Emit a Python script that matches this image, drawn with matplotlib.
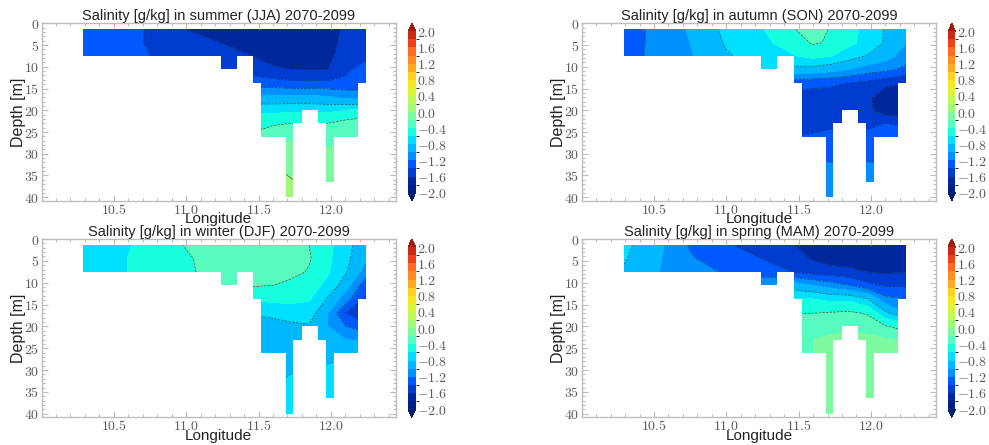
import numpy as np
import matplotlib
matplotlib.use("Agg")
import matplotlib.pyplot as plt
from matplotlib.colors import ListedColormap, BoundaryNorm
from matplotlib.path import Path
from matplotlib.ticker import MultipleLocator

plt.rcParams['mathtext.fontset'] = 'cm'
plt.rcParams['font.family'] = ['Liberation Sans', 'DejaVu Sans']

nan = np.nan

# grid nodes
lon = [10.29, 10.5, 10.75, 11.0, 11.24, 11.46, 11.6, 11.72, 11.85, 11.98, 12.1, 12.245]
depth = [1.4, 4.5, 7.6, 10.6, 13.7, 17, 20, 23, 26.2, 31, 36.4, 40]

# water columns (stepped bottom)
col_edges = [10.29, 11.24, 11.35, 11.465, 11.52, 11.69, 11.74, 11.80, 11.91, 11.965, 12.02, 12.185, 12.245]
col_bottom = [7.6, 10.6, 7.6, 13.7, 26.2, 40, 23, 20, 23, 36.4, 26.2, 13.7]

jja = [
    [-1.25, -1.3, -1.42, -1.6, -1.68, -1.72, -1.74, -1.74, -1.74, -1.72, -1.55, -1.48],
    [-1.25, -1.3, -1.42, -1.52, -1.6, -1.68, -1.72, -1.74, -1.74, -1.7, -1.52, -1.45],
    [-1.25, -1.3, -1.4, -1.48, -1.5, -1.6, -1.68, -1.72, -1.72, -1.65, -1.5, -1.45],
    [nan, nan, nan, nan, -1.5, -1.5, -1.57, -1.6, -1.6, -1.6, -1.45, -1.3],
    [nan, nan, nan, nan, nan, -1.3, -1.32, -1.35, -1.36, -1.36, -1.35, -1.3],
    [nan, nan, nan, nan, nan, -0.98, -0.96, -0.95, -0.95, -0.98, -1.05, -1.1],
    [nan, nan, nan, nan, nan, -0.65, -0.65, -0.65, -0.65, -0.65, -0.6, -0.55],
    [nan, nan, nan, nan, nan, -0.44, -0.42, -0.4, -0.4, -0.4, -0.33, -0.28],
    [nan, nan, nan, nan, nan, -0.38, -0.3, -0.22, -0.25, -0.25, -0.22, -0.19],
    [nan, nan, nan, nan, nan, nan, -0.04, -0.1, -0.15, -0.15, -0.15, nan],
    [nan, nan, nan, nan, nan, nan, 0.1, 0.02, -0.05, -0.1, -0.1, nan],
    [nan, nan, nan, nan, nan, nan, 0.12, 0.06, 0.02, nan, nan, nan],
]
son = [
    [-1.32, -1.15, -0.98, -0.75, -0.62, -0.41, -0.33, -0.41, -0.55, -0.65, -0.82, -0.95],
    [-1.32, -1.15, -1.0, -0.78, -0.66, -0.5, -0.38, -0.42, -0.55, -0.68, -0.82, -1.0],
    [-1.3, -1.15, -1.02, -0.82, -0.72, -0.62, -0.55, -0.6, -0.72, -0.82, -0.92, -1.1],
    [nan, nan, nan, nan, -0.72, -0.86, -0.88, -0.92, -1.0, -1.1, -1.15, -1.25],
    [nan, nan, nan, nan, nan, -1.3, -1.33, -1.36, -1.4, -1.45, -1.52, -1.6],
    [nan, nan, nan, nan, nan, -1.48, -1.5, -1.5, -1.52, -1.55, -1.75, -1.75],
    [nan, nan, nan, nan, nan, -1.5, -1.5, -1.5, -1.5, -1.55, -1.72, -1.78],
    [nan, nan, nan, nan, nan, -1.45, -1.45, -1.44, -1.44, -1.44, -1.4, -1.42],
    [nan, nan, nan, nan, nan, -1.4, -1.38, -1.35, -1.35, -1.35, -1.35, -1.35],
    [nan, nan, nan, nan, nan, nan, -1.22, -1.22, -1.22, -1.22, -1.22, nan],
    [nan, nan, nan, nan, nan, nan, -1.1, -1.1, -1.1, -1.1, -1.1, nan],
    [nan, nan, nan, nan, nan, nan, -1.05, -1.05, -1.05, nan, nan, nan],
]
djf = [
    [-0.7, -0.68, -0.52, -0.39, -0.32, -0.3, -0.3, -0.3, -0.4, -0.55, -0.72, -0.95],
    [-0.7, -0.66, -0.5, -0.42, -0.32, -0.28, -0.28, -0.3, -0.38, -0.56, -0.74, -0.98],
    [-0.7, -0.66, -0.5, -0.44, -0.3, -0.25, -0.3, -0.34, -0.42, -0.58, -0.78, -1.1],
    [nan, nan, nan, nan, -0.3, -0.38, -0.4, -0.45, -0.5, -0.66, -0.9, -1.35],
    [nan, nan, nan, nan, nan, -0.58, -0.55, -0.55, -0.58, -0.82, -1.1, -1.45],
    [nan, nan, nan, nan, nan, -0.78, -0.75, -0.7, -0.7, -1.0, -1.4, -1.65],
    [nan, nan, nan, nan, nan, -0.95, -0.88, -0.85, -0.82, -1.0, -1.2, -1.3],
    [nan, nan, nan, nan, nan, -0.92, -0.92, -0.92, -0.92, -0.95, -1.0, -1.05],
    [nan, nan, nan, nan, nan, -0.88, -0.88, -0.88, -0.85, -0.85, -0.82, -0.8],
    [nan, nan, nan, nan, nan, nan, -0.85, -0.8, -0.75, -0.75, -0.72, nan],
    [nan, nan, nan, nan, nan, nan, -0.72, -0.72, -0.72, -0.72, -0.72, nan],
    [nan, nan, nan, nan, nan, nan, -0.7, -0.7, -0.7, nan, nan, nan],
]
mam = [
    [-0.75, -0.92, -1.22, -1.38, -1.47, -1.58, -1.72, -1.75, -1.75, -1.75, -1.75, -1.75],
    [-0.78, -0.95, -1.18, -1.3, -1.4, -1.52, -1.62, -1.7, -1.72, -1.74, -1.72, -1.72],
    [-0.82, -0.98, -1.12, -1.22, -1.3, -1.4, -1.47, -1.5, -1.53, -1.6, -1.62, -1.6],
    [nan, nan, nan, nan, -1.05, -0.9, -1.0, -1.1, -1.2, -1.35, -1.42, -1.42],
    [nan, nan, nan, nan, nan, -0.6, -0.6, -0.65, -0.65, -0.8, -1.15, -1.2],
    [nan, nan, nan, nan, nan, -0.4, -0.4, -0.38, -0.36, -0.42, -0.75, -1.0],
    [nan, nan, nan, nan, nan, -0.32, -0.3, -0.28, -0.25, -0.28, -0.38, -0.5],
    [nan, nan, nan, nan, nan, -0.28, -0.2, -0.16, -0.12, -0.15, -0.18, -0.22],
    [nan, nan, nan, nan, nan, -0.26, -0.2, -0.14, -0.12, -0.12, -0.12, -0.12],
    [nan, nan, nan, nan, nan, nan, -0.1, -0.1, -0.1, -0.1, -0.1, nan],
    [nan, nan, nan, nan, nan, nan, -0.1, -0.1, -0.1, -0.1, -0.1, nan],
    [nan, nan, nan, nan, nan, nan, -0.1, -0.1, -0.1, nan, nan, nan],
]

titles = ["Salinity [g/kg] in summer (JJA) 2070-2099",
          "Salinity [g/kg] in autumn (SON) 2070-2099",
          "Salinity [g/kg] in winter (DJF) 2070-2099",
          "Salinity [g/kg] in spring (MAM) 2070-2099"]
panels = [jja, son, djf, mam]

levels = np.round(np.arange(-2.0, 2.01, 0.2), 1)
line_levels = [-1.6, -1.4, -1.2, -0.8, -0.4, 0.0]
cbar_ticks = [-2.0, -1.6, -1.2, -0.8, -0.4, 0.0, 0.4, 0.8, 1.2, 1.6, 2.0]
band_colors = ['#001f80', '#00289c', '#003cd0', '#0058ff', '#0090ff', '#00b8ff', '#00dfff',
               '#18ffe0', '#58fbbf', '#7ff9a0', '#a0fa78', '#c0fa55', '#dcf535', '#f5ea20',
               '#ffd020', '#ffaa20', '#ff8c20', '#ff6a20', '#f04018', '#c82a14']
cmap = ListedColormap(band_colors)
cmap.set_under('#00206e')
cmap.set_over('#a01c10')

W, H = 989, 445
fig = plt.figure(figsize=(W / 100, H / 100), dpi=100)

# axes boxes in pixels: left, right, top, bottom
boxes = [(41.5, 396, 23.3, 200.7), (581.7, 936, 23.3, 200.7),
         (41.5, 396, 239, 417.3), (581.7, 936, 239, 417.3)]
cbar_x = [(408, 415.7), (948, 955.5), (408, 415.7), (948, 955.5)]
grey = '#bdbdbd'
tick_grey = '#5a5a5a'


def water_path():
    verts = [(col_edges[0], depth[0])]
    for i, b in enumerate(col_bottom):
        verts.append((col_edges[i], b))
        verts.append((col_edges[i + 1], b))
    verts.append((col_edges[-1], depth[0]))
    verts.append((col_edges[0], depth[0]))
    return Path(verts)


for i, vals in enumerate(panels):
    l, r, t, b = boxes[i]
    ax = fig.add_axes([l / W, 1 - b / H, (r - l) / W, (b - t) / H])
    z = np.ma.masked_invalid(np.array(vals))
    # each panel needs its own norm, a shared one resets the earlier colorbars
    norm = BoundaryNorm(levels, cmap.N)
    cf = ax.contourf(lon, depth, z, levels=levels, cmap=cmap, norm=norm, extend='both')
    cl = ax.contour(lon, depth, z, levels=line_levels, colors='#222222', linewidths=0.5, alpha=0.75)
    cf.set_clip_path(water_path(), transform=ax.transData)
    cl.set_clip_path(water_path(), transform=ax.transData)

    ax.set_xlim(10.0, 12.45)
    ax.set_ylim(40.8, 0)
    ax.set_xticks([10.5, 11.0, 11.5, 12.0])
    ax.set_xticklabels(['$%.1f$' % v for v in [10.5, 11.0, 11.5, 12.0]])
    ax.set_yticks(np.arange(0, 41, 5))
    ax.set_yticklabels(['$%d$' % v for v in np.arange(0, 41, 5)])
    ax.xaxis.set_minor_locator(MultipleLocator(0.1))
    ax.yaxis.set_minor_locator(MultipleLocator(1))
    ax.tick_params(which='both', direction='in', top=True, right=True, color=grey, width=0.8)
    ax.tick_params(which='major', length=4, labelsize=10, labelcolor=tick_grey, pad=1.5)
    ax.tick_params(which='minor', length=2)
    for s in ax.spines.values():
        s.set_color(grey)
        s.set_linewidth(1.0)

    ax.set_title(titles[i], fontsize=10.5, color='#222222', pad=-1.5)
    ax.set_xlabel("Longitude", fontsize=11, color='#222222', labelpad=-3.5)
    ax.set_ylabel("Depth [m]", fontsize=11.5, color='#222222', labelpad=-1)

    x0, x1 = cbar_x[i]
    cax = fig.add_axes([x0 / W, 1 - b / H, (x1 - x0) / W, (b - t) / H])
    cb = fig.colorbar(cf, cax=cax, ticks=cbar_ticks, spacing='proportional')
    cb.ax.set_yticklabels(['$%.1f$' % v for v in cbar_ticks])
    cb.ax.tick_params(length=0, labelsize=10, labelcolor=tick_grey, pad=1)
    cb.outline.set_visible(False)

fig.savefig("out.png", dpi=100)
